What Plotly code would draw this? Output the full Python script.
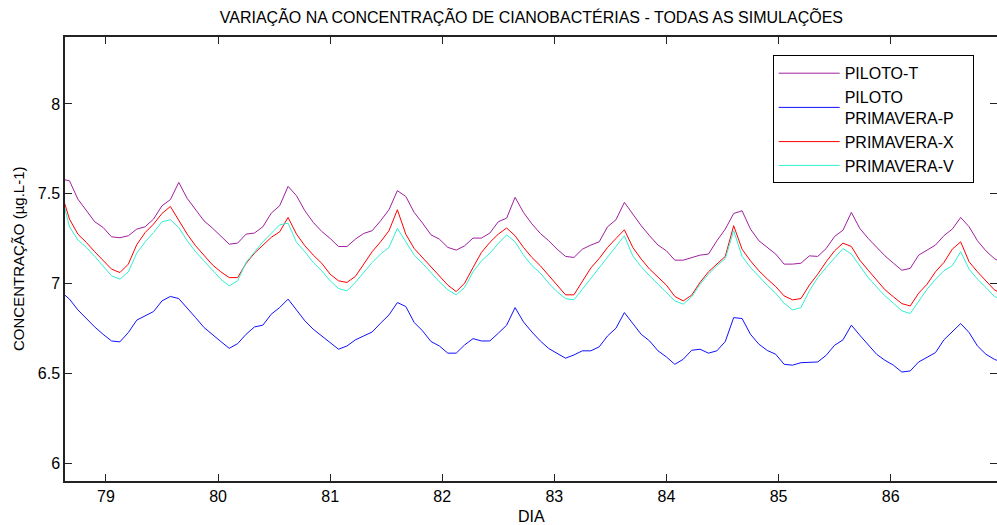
import plotly.graph_objects as go

# eixo do tempo (dias), passo de 0.075 dia
DIA = [round(78.60 + 0.075 * i, 3) for i in range(113)]

PILOTO_T = [
    7.582, 7.572, 7.470, 7.409, 7.344, 7.312, 7.260, 7.255, 7.266, 7.303,
    7.316, 7.359, 7.433, 7.467, 7.563, 7.474, 7.414, 7.349, 7.309, 7.262,
    7.219, 7.225, 7.275, 7.281, 7.316, 7.392, 7.433, 7.541, 7.489, 7.405,
    7.340, 7.290, 7.251, 7.206, 7.206, 7.247, 7.279, 7.294, 7.349, 7.411,
    7.517, 7.485, 7.396, 7.336, 7.271, 7.247, 7.201, 7.186, 7.210, 7.253,
    7.253, 7.281, 7.344, 7.364, 7.480, 7.396, 7.332, 7.279, 7.238, 7.191,
    7.151, 7.145, 7.191, 7.214, 7.232, 7.316, 7.355, 7.452, 7.387, 7.322,
    7.266, 7.214, 7.182, 7.130, 7.130, 7.145, 7.158, 7.164, 7.238, 7.303,
    7.390, 7.405, 7.303, 7.238, 7.200, 7.164, 7.108, 7.108, 7.113, 7.154,
    7.151, 7.195, 7.262, 7.297, 7.396, 7.307, 7.251, 7.201, 7.154, 7.113,
    7.074, 7.084, 7.158, 7.186, 7.214, 7.266, 7.303, 7.368, 7.316, 7.238,
    7.182, 7.139, 7.113,
]

PILOTO_PRIMAVERA_P = [
    6.954, 6.913, 6.853, 6.805, 6.758, 6.717, 6.680, 6.675, 6.727, 6.796,
    6.820, 6.844, 6.903, 6.928, 6.916, 6.866, 6.810, 6.755, 6.714, 6.677,
    6.639, 6.665, 6.717, 6.758, 6.768, 6.829, 6.866, 6.913, 6.853, 6.792,
    6.745, 6.708, 6.671, 6.634, 6.652, 6.686, 6.708, 6.730, 6.779, 6.825,
    6.894, 6.872, 6.783, 6.736, 6.677, 6.652, 6.612, 6.612, 6.658, 6.693,
    6.680, 6.680, 6.723, 6.768, 6.866, 6.786, 6.730, 6.680, 6.638, 6.612,
    6.584, 6.602, 6.625, 6.625, 6.647, 6.708, 6.751, 6.838, 6.779, 6.717,
    6.680, 6.625, 6.591, 6.550, 6.578, 6.628, 6.634, 6.612, 6.625, 6.677,
    6.810, 6.805, 6.717, 6.662, 6.627, 6.606, 6.550, 6.545, 6.559, 6.563,
    6.563, 6.600, 6.656, 6.686, 6.768, 6.712, 6.656, 6.606, 6.572, 6.545,
    6.507, 6.513, 6.563, 6.591, 6.615, 6.686, 6.730, 6.777, 6.727, 6.652,
    6.606, 6.578, 6.559,
]

PRIMAVERA_X = [
    7.510, 7.359, 7.275, 7.229, 7.177, 7.126, 7.080, 7.061, 7.108, 7.216,
    7.284, 7.331, 7.390, 7.429, 7.349, 7.275, 7.210, 7.154, 7.104, 7.065,
    7.033, 7.033, 7.112, 7.169, 7.216, 7.257, 7.288, 7.368, 7.275, 7.210,
    7.158, 7.113, 7.052, 7.015, 7.006, 7.039, 7.108, 7.177, 7.232, 7.294,
    7.411, 7.275, 7.195, 7.145, 7.095, 7.043, 6.991, 6.955, 7.002, 7.089,
    7.173, 7.229, 7.275, 7.309, 7.266, 7.201, 7.145, 7.099, 7.046, 6.991,
    6.937, 6.937, 7.015, 7.086, 7.139, 7.201, 7.251, 7.299, 7.201, 7.136,
    7.080, 7.033, 6.991, 6.928, 6.903, 6.935, 7.006, 7.065, 7.108, 7.151,
    7.322, 7.191, 7.126, 7.071, 7.025, 6.983, 6.931, 6.909, 6.916, 6.991,
    7.052, 7.121, 7.182, 7.225, 7.206, 7.130, 7.074, 7.020, 6.965, 6.926,
    6.888, 6.875, 6.946, 6.996, 7.065, 7.117, 7.191, 7.232, 7.121, 7.065,
    7.015, 6.965, 6.941,
]

PRIMAVERA_V = [
    7.500, 7.316, 7.243, 7.201, 7.151, 7.099, 7.043, 7.024, 7.065, 7.169,
    7.232, 7.284, 7.344, 7.355, 7.312, 7.238, 7.177, 7.126, 7.076, 7.024,
    6.987, 7.015, 7.117, 7.177, 7.232, 7.279, 7.327, 7.336, 7.229, 7.177,
    7.117, 7.071, 7.015, 6.972, 6.959, 7.006, 7.061, 7.117, 7.164, 7.201,
    7.307, 7.232, 7.158, 7.112, 7.061, 7.009, 6.965, 6.937, 6.978, 7.065,
    7.126, 7.169, 7.223, 7.271, 7.232, 7.158, 7.100, 7.058, 7.002, 6.954,
    6.916, 6.909, 6.968, 7.028, 7.089, 7.151, 7.210, 7.266, 7.154, 7.093,
    7.043, 6.996, 6.954, 6.903, 6.885, 6.926, 6.996, 7.052, 7.099, 7.139,
    7.294, 7.151, 7.089, 7.037, 6.990, 6.946, 6.890, 6.853, 6.866, 6.959,
    7.033, 7.089, 7.145, 7.195, 7.164, 7.099, 7.033, 6.981, 6.931, 6.890,
    6.848, 6.833, 6.903, 6.968, 7.024, 7.071, 7.099, 7.177, 7.080, 7.024,
    6.978, 6.928, 6.909,
]

# nbsp no fim para alargar a caixa da legenda como no original
NOMES = ['PILOTO-T', 'PILOTO<br>PRIMAVERA-P\u00a0\u00a0\u00a0', 'PRIMAVERA-X', 'PRIMAVERA-V']
CORES = ['#A020A0', '#1010FF', '#FF0000', '#30F0D0']
X_TICKS = [79, 80, 81, 82, 83, 84, 85, 86]
Y_TICKS = [6, 6.5, 7, 7.5, 8]
Y_TICK_LABELS = ['6', '6.5', '7', '7.5', '8']

FONTE = 'Liberation Sans, Arial, sans-serif'

fig = go.Figure()
for nome, serie, cor in zip(NOMES, [PILOTO_T, PILOTO_PRIMAVERA_P, PRIMAVERA_X, PRIMAVERA_V], CORES):
    fig.add_trace(go.Scatter(x=DIA, y=serie, mode='lines', name=nome,
                             line=dict(color=cor, width=1)))

fig.update_layout(
    width=997, height=525,
    margin=dict(l=65, r=0, t=37, b=44),
    paper_bgcolor='white', plot_bgcolor='white',
    font=dict(family=FONTE, size=16, color='#000000'),
    title=dict(text='VARIAÇÃO NA CONCENTRAÇÃO DE CIANOBACTÉRIAS - TODAS AS SIMULAÇÕES',
               x=0.533, xanchor='center', y=0.967, yanchor='middle',
               font=dict(family=FONTE, size=16)),
    showlegend=True,
    legend=dict(x=0.7593, y=0.9588, xanchor='left', yanchor='top',
                bordercolor='#000000', borderwidth=1, bgcolor='white',
                font=dict(family=FONTE, size=16), itemwidth=61,
                tracegroupgap=0),
    # titulos dos eixos como anotacoes para fixar a posicao
    annotations=[
        dict(text='DIA', xref='paper', yref='paper', x=0.5, y=-0.079,
             xanchor='center', yanchor='middle', showarrow=False,
             font=dict(family=FONTE, size=16)),
        dict(text='CONCENTRAÇÃO (µg.L-1)', xref='paper', yref='paper', x=-0.0504, y=0.5,
             xanchor='center', yanchor='middle', textangle=-90, showarrow=False,
             font=dict(family=FONTE, size=15)),
    ],
)

fig.update_xaxes(
    range=[78.635, 86.949], tickvals=X_TICKS, automargin=False,
    ticks='inside', ticklen=7, tickcolor='#222', tickwidth=1,
    showline=True, linecolor='#222', linewidth=1.5, mirror='allticks',
    showgrid=False, zeroline=False,
)
fig.update_yaxes(
    range=[5.9, 8.373], tickvals=Y_TICKS, ticktext=Y_TICK_LABELS, automargin=False,
    ticks='inside', ticklen=7, tickcolor='#222', tickwidth=1,
    showline=True, linecolor='#222', linewidth=1.5, mirror='allticks',
    showgrid=False, zeroline=False,
)

# tira a margem padrao do body da pagina
fig.write_html('out.html', config={'displayModeBar': False},
               post_script="document.body.style.margin='0';")
